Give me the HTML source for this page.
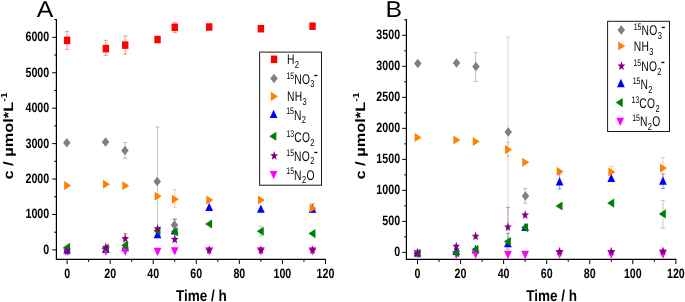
<!DOCTYPE html>
<html><head><meta charset="utf-8"><title>Figure</title>
<style>
html,body{margin:0;padding:0;background:#fff;}
body{width:685px;height:302px;overflow:hidden;}
svg{display:block;font-family:"Liberation Sans",sans-serif;will-change:transform;}
svg text{text-rendering:geometricPrecision;}
</style></head><body>
<svg width="685" height="302" viewBox="0 0 685 302">
<rect width="685" height="302" fill="#fff"/>
<path d="M56.4 19V259.3H325.9" stroke="#000" stroke-width="1.2" fill="none"/>
<path d="M56.4 249.9h-4.2M56.4 214.47h-4.2M56.4 179.04h-4.2M56.4 143.61h-4.2M56.4 108.18h-4.2M56.4 72.75h-4.2M56.4 37.32h-4.2M56.4 232.19h-2.2M56.4 196.75h-2.2M56.4 161.32h-2.2M56.4 125.89h-2.2M56.4 90.47h-2.2M56.4 55.03h-2.2M56.4 19.6h-2.2M67.1 259.3v4.8M110.16 259.3v4.8M153.22 259.3v4.8M196.28 259.3v4.8M239.34 259.3v4.8M282.4 259.3v4.8M325.46 259.3v4.8M88.63 259.3v2.6M131.69 259.3v2.6M174.75 259.3v2.6M217.81 259.3v2.6M260.87 259.3v2.6M303.93 259.3v2.6" stroke="#000" stroke-width="1" fill="none"/>
<text transform="translate(49.2 253.9) scale(0.785 1)" font-size="13.6" font-weight="bold" text-anchor="end" >0</text>
<text transform="translate(49.2 218.47) scale(0.785 1)" font-size="13.6" font-weight="bold" text-anchor="end" >1000</text>
<text transform="translate(49.2 183.04) scale(0.785 1)" font-size="13.6" font-weight="bold" text-anchor="end" >2000</text>
<text transform="translate(49.2 147.61) scale(0.785 1)" font-size="13.6" font-weight="bold" text-anchor="end" >3000</text>
<text transform="translate(49.2 112.18) scale(0.785 1)" font-size="13.6" font-weight="bold" text-anchor="end" >4000</text>
<text transform="translate(49.2 76.75) scale(0.785 1)" font-size="13.6" font-weight="bold" text-anchor="end" >5000</text>
<text transform="translate(49.2 41.32) scale(0.785 1)" font-size="13.6" font-weight="bold" text-anchor="end" >6000</text>
<text transform="translate(67.1 277.9) scale(0.785 1)" font-size="13.6" font-weight="bold" text-anchor="middle" >0</text>
<text transform="translate(110.16 277.9) scale(0.785 1)" font-size="13.6" font-weight="bold" text-anchor="middle" >20</text>
<text transform="translate(153.22 277.9) scale(0.785 1)" font-size="13.6" font-weight="bold" text-anchor="middle" >40</text>
<text transform="translate(196.28 277.9) scale(0.785 1)" font-size="13.6" font-weight="bold" text-anchor="middle" >60</text>
<text transform="translate(239.34 277.9) scale(0.785 1)" font-size="13.6" font-weight="bold" text-anchor="middle" >80</text>
<text transform="translate(282.4 277.9) scale(0.785 1)" font-size="13.6" font-weight="bold" text-anchor="middle" >100</text>
<text transform="translate(325.46 277.9) scale(0.785 1)" font-size="13.6" font-weight="bold" text-anchor="middle" >120</text>
<path d="M406.4 19V259.3H676.3" stroke="#000" stroke-width="1.2" fill="none"/>
<path d="M406.4 252.4h-4.2M406.4 221.38h-4.2M406.4 190.37h-4.2M406.4 159.36h-4.2M406.4 128.34h-4.2M406.4 97.32h-4.2M406.4 66.31h-4.2M406.4 35.29h-4.2M406.4 236.89h-2.2M406.4 205.88h-2.2M406.4 174.86h-2.2M406.4 143.85h-2.2M406.4 112.83h-2.2M406.4 81.82h-2.2M406.4 50.8h-2.2M406.4 19.79h-2.2M417.5 259.3v4.8M460.56 259.3v4.8M503.62 259.3v4.8M546.68 259.3v4.8M589.74 259.3v4.8M632.8 259.3v4.8M675.86 259.3v4.8M439.03 259.3v2.6M482.09 259.3v2.6M525.15 259.3v2.6M568.21 259.3v2.6M611.27 259.3v2.6M654.33 259.3v2.6" stroke="#000" stroke-width="1" fill="none"/>
<text transform="translate(400.1 256.4) scale(0.785 1)" font-size="13.6" font-weight="bold" text-anchor="end" >0</text>
<text transform="translate(400.1 225.38) scale(0.785 1)" font-size="13.6" font-weight="bold" text-anchor="end" >500</text>
<text transform="translate(400.1 194.37) scale(0.785 1)" font-size="13.6" font-weight="bold" text-anchor="end" >1000</text>
<text transform="translate(400.1 163.36) scale(0.785 1)" font-size="13.6" font-weight="bold" text-anchor="end" >1500</text>
<text transform="translate(400.1 132.34) scale(0.785 1)" font-size="13.6" font-weight="bold" text-anchor="end" >2000</text>
<text transform="translate(400.1 101.32) scale(0.785 1)" font-size="13.6" font-weight="bold" text-anchor="end" >2500</text>
<text transform="translate(400.1 70.31) scale(0.785 1)" font-size="13.6" font-weight="bold" text-anchor="end" >3000</text>
<text transform="translate(400.1 39.29) scale(0.785 1)" font-size="13.6" font-weight="bold" text-anchor="end" >3500</text>
<text transform="translate(417.5 277.9) scale(0.785 1)" font-size="13.6" font-weight="bold" text-anchor="middle" >0</text>
<text transform="translate(460.56 277.9) scale(0.785 1)" font-size="13.6" font-weight="bold" text-anchor="middle" >20</text>
<text transform="translate(503.62 277.9) scale(0.785 1)" font-size="13.6" font-weight="bold" text-anchor="middle" >40</text>
<text transform="translate(546.68 277.9) scale(0.785 1)" font-size="13.6" font-weight="bold" text-anchor="middle" >60</text>
<text transform="translate(589.74 277.9) scale(0.785 1)" font-size="13.6" font-weight="bold" text-anchor="middle" >80</text>
<text transform="translate(632.8 277.9) scale(0.785 1)" font-size="13.6" font-weight="bold" text-anchor="middle" >100</text>
<text transform="translate(675.86 277.9) scale(0.785 1)" font-size="13.6" font-weight="bold" text-anchor="middle" >120</text>
<path d="M157.53 127.1V235.9M155.43 127.1h4.2M155.43 235.9h4.2" stroke="#808080" stroke-opacity="0.55" stroke-width="0.8" fill="none"/>
<path d="M125.23 142.4V158.2M123.13 142.4h4.2M123.13 158.2h4.2" stroke="#808080" stroke-opacity="0.6" stroke-width="0.8" fill="none"/>
<path d="M174.75 219V231M172.65 219h4.2M172.65 231h4.2" stroke="#808080" stroke-opacity="0.6" stroke-width="0.8" fill="none"/>
<path d="M174.75 189.6V207.7M172.65 189.6h4.2M172.65 207.7h4.2" stroke="#ff8000" stroke-opacity="0.5" stroke-width="0.8" fill="none"/>
<path d="M174.75 219.2V241.6M172.65 219.2h4.2M172.65 241.6h4.2" stroke="#0000ff" stroke-opacity="0.5" stroke-width="0.8" fill="none"/>
<path d="M312.54 204.1V212.6M310.44 204.1h4.2M310.44 212.6h4.2" stroke="#0000ff" stroke-opacity="0.5" stroke-width="0.8" fill="none"/>
<path d="M312.54 203.8V212.4M310.44 203.8h4.2M310.44 212.4h4.2" stroke="#ff8000" stroke-opacity="0.5" stroke-width="0.8" fill="none"/>
<path d="M260.87 226.5V236M258.77 226.5h4.2M258.77 236h4.2" stroke="#008000" stroke-opacity="0.4" stroke-width="0.8" fill="none"/>
<path d="M125.23 233.6V243M123.13 233.6h4.2M123.13 243h4.2" stroke="#800080" stroke-opacity="0.6" stroke-width="0.8" fill="none"/>
<path d="M67.1 31.4V49.4M65 31.4h4.2M65 49.4h4.2" stroke="#ff0000" stroke-opacity="0.5" stroke-width="0.8" fill="none"/>
<path d="M105.85 40.3V55.4M103.75 40.3h4.2M103.75 55.4h4.2" stroke="#ff0000" stroke-opacity="0.5" stroke-width="0.8" fill="none"/>
<path d="M125.23 36V54.2M123.13 36h4.2M123.13 54.2h4.2" stroke="#ff0000" stroke-opacity="0.5" stroke-width="0.8" fill="none"/>
<path d="M174.75 22.3V32.6M172.65 22.3h4.2M172.65 32.6h4.2" stroke="#ff0000" stroke-opacity="0.5" stroke-width="0.8" fill="none"/>
<path d="M67.1 245.25L70.95 253.55L63.25 253.55Z" fill="#0000ff"/>
<path d="M105.85 244.65L109.7 252.95L102 252.95Z" fill="#0000ff"/>
<path d="M125.23 243.05L129.08 251.35L121.38 251.35Z" fill="#0000ff"/>
<path d="M157.53 230.05L161.38 238.35L153.68 238.35Z" fill="#0000ff"/>
<path d="M174.75 226.25L178.6 234.55L170.9 234.55Z" fill="#0000ff"/>
<path d="M209.2 202.75L213.05 211.05L205.35 211.05Z" fill="#0000ff"/>
<path d="M260.87 204.55L264.72 212.85L257.02 212.85Z" fill="#0000ff"/>
<path d="M312.54 204.55L316.39 212.85L308.69 212.85Z" fill="#0000ff"/>
<path d="M67.1 256.05L70.95 247.75L63.25 247.75Z" fill="#ff00ff"/>
<path d="M105.85 255.85L109.7 247.55L102 247.55Z" fill="#ff00ff"/>
<path d="M125.23 255.75L129.08 247.45L121.38 247.45Z" fill="#ff00ff"/>
<path d="M157.53 256.15L161.38 247.85L153.68 247.85Z" fill="#ff00ff"/>
<path d="M174.75 255.45L178.6 247.15L170.9 247.15Z" fill="#ff00ff"/>
<path d="M209.2 255.45L213.05 247.15L205.35 247.15Z" fill="#ff00ff"/>
<path d="M260.87 255.45L264.72 247.15L257.02 247.15Z" fill="#ff00ff"/>
<path d="M312.54 255.45L316.39 247.15L308.69 247.15Z" fill="#ff00ff"/>
<path d="M70 242.85L63 247.4L70 251.95Z" fill="#008000"/>
<path d="M108.75 243.65L101.75 248.2L108.75 252.75Z" fill="#008000"/>
<path d="M128.13 240.85L121.13 245.4L128.13 249.95Z" fill="#008000"/>
<path d="M160.43 226.15L153.43 230.7L160.43 235.25Z" fill="#008000"/>
<path d="M177.65 227.35L170.65 231.9L177.65 236.45Z" fill="#008000"/>
<path d="M212.1 219.45L205.1 224L212.1 228.55Z" fill="#008000"/>
<path d="M263.77 226.75L256.77 231.3L263.77 235.85Z" fill="#008000"/>
<path d="M315.44 229.05L308.44 233.6L315.44 238.15Z" fill="#008000"/>
<path d="M67.1 246.41L68.12 249.58L70.93 249.76L68.75 251.91L69.47 255.19L67.1 253.35L64.73 255.19L65.45 251.91L63.27 249.76L66.08 249.58Z" fill="#800080"/>
<path d="M105.85 242.61L106.87 245.78L109.68 245.96L107.5 248.11L108.22 251.39L105.85 249.55L103.49 251.39L104.21 248.11L102.03 245.96L104.84 245.78Z" fill="#800080"/>
<path d="M125.23 233.81L126.25 236.98L129.06 237.16L126.88 239.31L127.6 242.59L125.23 240.75L122.86 242.59L123.58 239.31L121.4 237.16L124.21 236.98Z" fill="#800080"/>
<path d="M157.53 224.11L158.54 227.28L161.35 227.46L159.17 229.61L159.89 232.89L157.53 231.05L155.16 232.89L155.88 229.61L153.7 227.46L156.51 227.28Z" fill="#800080"/>
<path d="M174.75 234.61L175.77 237.78L178.58 237.96L176.4 240.11L177.12 243.39L174.75 241.55L172.38 243.39L173.1 240.11L170.92 237.96L173.73 237.78Z" fill="#800080"/>
<path d="M209.2 245.31L210.22 248.48L213.03 248.66L210.84 250.81L211.56 254.09L209.2 252.25L206.83 254.09L207.55 250.81L205.37 248.66L208.18 248.48Z" fill="#800080"/>
<path d="M260.87 245.31L261.89 248.48L264.7 248.66L262.52 250.81L263.24 254.09L260.87 252.25L258.5 254.09L259.22 250.81L257.04 248.66L259.85 248.48Z" fill="#800080"/>
<path d="M312.54 245.31L313.56 248.48L316.37 248.66L314.19 250.81L314.91 254.09L312.54 252.25L310.18 254.09L310.9 250.81L308.71 248.66L311.52 248.48Z" fill="#800080"/>
<path d="M66.8 138.05L70.55 142.8L66.8 147.55L63.05 142.8Z" fill="#808080"/>
<path d="M105.55 137.25L109.3 142L105.55 146.75L101.8 142Z" fill="#808080"/>
<path d="M124.93 145.75L128.68 150.5L124.93 155.25L121.18 150.5Z" fill="#808080"/>
<path d="M157.23 176.75L160.98 181.5L157.23 186.25L153.48 181.5Z" fill="#808080"/>
<path d="M174.45 220.15L178.2 224.9L174.45 229.65L170.7 224.9Z" fill="#808080"/>
<path d="M64.2 180.95L71.2 185.5L64.2 190.05Z" fill="#ff8000"/>
<path d="M102.95 179.65L109.95 184.2L102.95 188.75Z" fill="#ff8000"/>
<path d="M122.33 181.25L129.33 185.8L122.33 190.35Z" fill="#ff8000"/>
<path d="M154.63 191.65L161.63 196.2L154.63 200.75Z" fill="#ff8000"/>
<path d="M171.85 194.65L178.85 199.2L171.85 203.75Z" fill="#ff8000"/>
<path d="M206.3 195.55L213.3 200.1L206.3 204.65Z" fill="#ff8000"/>
<path d="M257.97 195.45L264.97 200L257.97 204.55Z" fill="#ff8000"/>
<path d="M309.64 203.65L316.64 208.2L309.64 212.75Z" fill="#ff8000"/>
<rect x="63.9" y="36.65" width="6.4" height="7.5" fill="#ff0000"/>
<rect x="102.65" y="44.85" width="6.4" height="7.5" fill="#ff0000"/>
<rect x="122.03" y="41.35" width="6.4" height="7.5" fill="#ff0000"/>
<rect x="154.33" y="35.75" width="6.4" height="7.5" fill="#ff0000"/>
<rect x="171.55" y="23.55" width="6.4" height="7.5" fill="#ff0000"/>
<rect x="206" y="23.25" width="6.4" height="7.5" fill="#ff0000"/>
<rect x="257.67" y="24.95" width="6.4" height="7.5" fill="#ff0000"/>
<rect x="309.34" y="22.45" width="6.4" height="7.5" fill="#ff0000"/>
<path d="M507.93 37V227M505.83 37h4.2M505.83 227h4.2" stroke="#808080" stroke-opacity="0.4" stroke-width="0.8" fill="none"/>
<path d="M475.63 52.5V81.4M473.53 52.5h4.2M473.53 81.4h4.2" stroke="#808080" stroke-opacity="0.6" stroke-width="0.8" fill="none"/>
<path d="M525.15 188.5V203.3M523.05 188.5h4.2M523.05 203.3h4.2" stroke="#808080" stroke-opacity="0.6" stroke-width="0.8" fill="none"/>
<path d="M507.93 142.3V156.4M505.83 142.3h4.2M505.83 156.4h4.2" stroke="#ff8000" stroke-opacity="0.5" stroke-width="0.8" fill="none"/>
<path d="M507.93 207.4V246M505.83 207.4h4.2M505.83 246h4.2" stroke="#800080" stroke-opacity="0.45" stroke-width="0.8" fill="none"/>
<path d="M507.93 233.3V249.3M505.83 233.3h4.2M505.83 249.3h4.2" stroke="#008000" stroke-opacity="0.5" stroke-width="0.8" fill="none"/>
<path d="M559.6 174V189M557.5 174h4.2M557.5 189h4.2" stroke="#0000ff" stroke-opacity="0.5" stroke-width="0.8" fill="none"/>
<path d="M662.94 174V188.5M660.84 174h4.2M660.84 188.5h4.2" stroke="#0000ff" stroke-opacity="0.5" stroke-width="0.8" fill="none"/>
<path d="M611.27 166.5V177M609.17 166.5h4.2M609.17 177h4.2" stroke="#ff8000" stroke-opacity="0.5" stroke-width="0.8" fill="none"/>
<path d="M662.94 157.5V179M660.84 157.5h4.2M660.84 179h4.2" stroke="#ff8000" stroke-opacity="0.5" stroke-width="0.8" fill="none"/>
<path d="M662.94 200.3V228M660.84 200.3h4.2M660.84 228h4.2" stroke="#008000" stroke-opacity="0.4" stroke-width="0.8" fill="none"/>
<path d="M417.5 248.25L421.35 256.55L413.65 256.55Z" fill="#0000ff"/>
<path d="M456.25 246.75L460.1 255.05L452.4 255.05Z" fill="#0000ff"/>
<path d="M475.63 244.85L479.48 253.15L471.78 253.15Z" fill="#0000ff"/>
<path d="M507.93 238.85L511.78 247.15L504.08 247.15Z" fill="#0000ff"/>
<path d="M525.15 222.75L529 231.05L521.3 231.05Z" fill="#0000ff"/>
<path d="M559.6 177.15L563.45 185.45L555.75 185.45Z" fill="#0000ff"/>
<path d="M611.27 173.65L615.12 181.95L607.42 181.95Z" fill="#0000ff"/>
<path d="M662.94 176.45L666.79 184.75L659.09 184.75Z" fill="#0000ff"/>
<path d="M417.5 258.35L421.35 250.05L413.65 250.05Z" fill="#ff00ff"/>
<path d="M456.25 258.95L460.1 250.65L452.4 250.65Z" fill="#ff00ff"/>
<path d="M475.63 258.75L479.48 250.45L471.78 250.45Z" fill="#ff00ff"/>
<path d="M507.93 259.15L511.78 250.85L504.08 250.85Z" fill="#ff00ff"/>
<path d="M525.15 259.15L529 250.85L521.3 250.85Z" fill="#ff00ff"/>
<path d="M559.6 258.65L563.45 250.35L555.75 250.35Z" fill="#ff00ff"/>
<path d="M611.27 258.65L615.12 250.35L607.42 250.35Z" fill="#ff00ff"/>
<path d="M662.94 258.65L666.79 250.35L659.09 250.35Z" fill="#ff00ff"/>
<path d="M420.4 248.65L413.4 253.2L420.4 257.75Z" fill="#008000"/>
<path d="M459.15 248.25L452.15 252.8L459.15 257.35Z" fill="#008000"/>
<path d="M478.53 244.65L471.53 249.2L478.53 253.75Z" fill="#008000"/>
<path d="M510.83 236.95L503.83 241.5L510.83 246.05Z" fill="#008000"/>
<path d="M528.05 223.05L521.05 227.6L528.05 232.15Z" fill="#008000"/>
<path d="M562.5 201.45L555.5 206L562.5 210.55Z" fill="#008000"/>
<path d="M614.17 198.55L607.17 203.1L614.17 207.65Z" fill="#008000"/>
<path d="M665.84 209.35L658.84 213.9L665.84 218.45Z" fill="#008000"/>
<path d="M417.5 248.61L418.52 251.78L421.33 251.96L419.15 254.11L419.87 257.39L417.5 255.55L415.13 257.39L415.85 254.11L413.67 251.96L416.48 251.78Z" fill="#800080"/>
<path d="M456.25 241.51L457.27 244.68L460.08 244.86L457.9 247.01L458.62 250.29L456.25 248.45L453.89 250.29L454.61 247.01L452.43 244.86L455.24 244.68Z" fill="#800080"/>
<path d="M475.63 231.51L476.65 234.68L479.46 234.86L477.28 237.01L478 240.29L475.63 238.45L473.26 240.29L473.98 237.01L471.8 234.86L474.61 234.68Z" fill="#800080"/>
<path d="M507.93 222.21L508.94 225.38L511.75 225.56L509.57 227.71L510.29 230.99L507.93 229.15L505.56 230.99L506.28 227.71L504.1 225.56L506.91 225.38Z" fill="#800080"/>
<path d="M525.15 210.21L526.17 213.38L528.98 213.56L526.8 215.71L527.52 218.99L525.15 217.15L522.78 218.99L523.5 215.71L521.32 213.56L524.13 213.38Z" fill="#800080"/>
<path d="M559.6 246.71L560.62 249.88L563.43 250.06L561.24 252.21L561.96 255.49L559.6 253.65L557.23 255.49L557.95 252.21L555.77 250.06L558.58 249.88Z" fill="#800080"/>
<path d="M611.27 246.81L612.29 249.98L615.1 250.16L612.92 252.31L613.64 255.59L611.27 253.75L608.9 255.59L609.62 252.31L607.44 250.16L610.25 249.98Z" fill="#800080"/>
<path d="M662.94 246.41L663.96 249.58L666.77 249.76L664.59 251.91L665.31 255.19L662.94 253.35L660.58 255.19L661.3 251.91L659.11 249.76L661.92 249.58Z" fill="#800080"/>
<path d="M417.8 58.75L421.55 63.5L417.8 68.25L414.05 63.5Z" fill="#808080"/>
<path d="M456.55 58.25L460.3 63L456.55 67.75L452.8 63Z" fill="#808080"/>
<path d="M475.93 61.75L479.68 66.5L475.93 71.25L472.18 66.5Z" fill="#808080"/>
<path d="M508.23 127.25L511.98 132L508.23 136.75L504.48 132Z" fill="#808080"/>
<path d="M525.45 191.25L529.2 196L525.45 200.75L521.7 196Z" fill="#808080"/>
<path d="M414.6 132.95L421.6 137.5L414.6 142.05Z" fill="#ff8000"/>
<path d="M453.35 135.45L460.35 140L453.35 144.55Z" fill="#ff8000"/>
<path d="M472.73 136.95L479.73 141.5L472.73 146.05Z" fill="#ff8000"/>
<path d="M505.03 145.05L512.03 149.6L505.03 154.15Z" fill="#ff8000"/>
<path d="M522.25 157.65L529.25 162.2L522.25 166.75Z" fill="#ff8000"/>
<path d="M556.7 166.95L563.7 171.5L556.7 176.05Z" fill="#ff8000"/>
<path d="M608.37 167.45L615.37 172L608.37 176.55Z" fill="#ff8000"/>
<path d="M660.04 163.45L667.04 168L660.04 172.55Z" fill="#ff8000"/>
<text transform="translate(201.35 300.8) scale(0.855 1)" font-size="15.8" font-weight="bold" text-anchor="middle" >Time / h</text>
<text transform="translate(551.7 300.8) scale(0.855 1)" font-size="15.8" font-weight="bold" text-anchor="middle" >Time / h</text>
<text transform="translate(12.6 136.0) rotate(-90) scale(1 0.83)" font-size="16.4" font-weight="bold" text-anchor="middle">c / µmol*L<tspan dy="-6.6" font-size="10.6">-1</tspan></text>
<text transform="translate(364.7 136.0) rotate(-90) scale(1 0.83)" font-size="16.4" font-weight="bold" text-anchor="middle">c / µmol*L<tspan dy="-6.6" font-size="10.6">-1</tspan></text>
<text transform="translate(36.7 16.7) scale(1.08 1)" font-size="23.0" font-weight="normal" text-anchor="start" >A</text>
<text transform="translate(385.6 16.7) scale(1.08 1)" font-size="23.0" font-weight="normal" text-anchor="start" >B</text>
<rect x="259.6" y="52.1" width="61.9" height="133.1" fill="#fff" stroke="#1a1a1a" stroke-width="1"/>
<rect x="270.85" y="55.55" width="6.4" height="7.5" fill="#ff0000"/>
<text transform="translate(286.9 64.15) scale(0.735 1)" font-size="14.0" font-weight="normal" text-anchor="start" letter-spacing="0.5">H<tspan dy="3.5" font-size="10.2">2</tspan><tspan dy="-3.5" font-size="0.1">&#8203;</tspan></text>
<path d="M274 73.85L277.75 78.6L274 83.35L270.25 78.6Z" fill="#808080"/>
<text transform="translate(286.4 83.95) scale(0.735 1)" font-size="14.0" font-weight="normal" text-anchor="start" letter-spacing="0.5"><tspan dy="-5.4" font-size="9.5" letter-spacing="0">15</tspan><tspan dy="5.4" font-size="0.1">&#8203;</tspan>NO<tspan dy="3.5" font-size="10.2">3</tspan><tspan dy="-3.5" font-size="0.1">&#8203;</tspan><tspan dx="-1.4" dy="-3.9" font-size="17">-</tspan><tspan dy="3.9" font-size="0.1">&#8203;</tspan></text>
<path d="M270.9 91.85L277.9 96.4L270.9 100.95Z" fill="#ff8000"/>
<text transform="translate(286.9 101.15) scale(0.735 1)" font-size="14.0" font-weight="normal" text-anchor="start" letter-spacing="0.5">NH<tspan dy="3.5" font-size="10.2">3</tspan><tspan dy="-3.5" font-size="0.1">&#8203;</tspan></text>
<path d="M273.6 109.65L277.45 117.95L269.75 117.95Z" fill="#0000ff"/>
<text transform="translate(286.2 119.55) scale(0.735 1)" font-size="14.0" font-weight="normal" text-anchor="start" letter-spacing="0.5"><tspan dy="-5.4" font-size="9.5" letter-spacing="0">15</tspan><tspan dy="5.4" font-size="0.1">&#8203;</tspan>N<tspan dy="3.5" font-size="10.2">2</tspan><tspan dy="-3.5" font-size="0.1">&#8203;</tspan></text>
<path d="M276.3 131.65L269.3 136.2L276.3 140.75Z" fill="#008000"/>
<text transform="translate(286.4 142.15) scale(0.735 1)" font-size="14.0" font-weight="normal" text-anchor="start" letter-spacing="0.5"><tspan dy="-5.4" font-size="9.5" letter-spacing="0">13</tspan><tspan dy="5.4" font-size="0.1">&#8203;</tspan>CO<tspan dy="3.5" font-size="10.2">2</tspan><tspan dy="-3.5" font-size="0.1">&#8203;</tspan></text>
<path d="M274.2 151.01L275.22 154.18L278.03 154.36L275.85 156.51L276.57 159.79L274.2 157.95L271.83 159.79L272.55 156.51L270.37 154.36L273.18 154.18Z" fill="#800080"/>
<text transform="translate(286.3 160.95) scale(0.735 1)" font-size="14.0" font-weight="normal" text-anchor="start" letter-spacing="0.5"><tspan dy="-5.4" font-size="9.5" letter-spacing="0">15</tspan><tspan dy="5.4" font-size="0.1">&#8203;</tspan>NO<tspan dy="3.5" font-size="10.2">2</tspan><tspan dy="-3.5" font-size="0.1">&#8203;</tspan><tspan dx="-1.4" dy="-3.9" font-size="17">-</tspan><tspan dy="3.9" font-size="0.1">&#8203;</tspan></text>
<path d="M273.6 179.35L277.45 171.05L269.75 171.05Z" fill="#ff00ff"/>
<text transform="translate(286.3 179.75) scale(0.735 1)" font-size="14.0" font-weight="normal" text-anchor="start" letter-spacing="0.5"><tspan dy="-5.4" font-size="9.5" letter-spacing="0">15</tspan><tspan dy="5.4" font-size="0.1">&#8203;</tspan>N<tspan dy="3.5" font-size="10.2">2</tspan><tspan dy="-3.5" font-size="0.1">&#8203;</tspan>O</text>
<rect x="607.6" y="21.3" width="61.9" height="110.2" fill="#fff" stroke="#1a1a1a" stroke-width="1"/>
<path d="M621.3 25.25L625.05 30L621.3 34.75L617.55 30Z" fill="#808080"/>
<text transform="translate(633.7 35.45) scale(0.735 1)" font-size="14.0" font-weight="normal" text-anchor="start" letter-spacing="0.5"><tspan dy="-5.4" font-size="9.5" letter-spacing="0">15</tspan><tspan dy="5.4" font-size="0.1">&#8203;</tspan>NO<tspan dy="3.5" font-size="10.2">3</tspan><tspan dy="-3.5" font-size="0.1">&#8203;</tspan><tspan dx="-1.4" dy="-3.9" font-size="17">-</tspan><tspan dy="3.9" font-size="0.1">&#8203;</tspan></text>
<path d="M618.25 41.5L625.25 46.05L618.25 50.6Z" fill="#ff8000"/>
<text transform="translate(633.7 51.05) scale(0.735 1)" font-size="14.0" font-weight="normal" text-anchor="start" letter-spacing="0.5">NH<tspan dy="3.5" font-size="10.2">3</tspan><tspan dy="-3.5" font-size="0.1">&#8203;</tspan></text>
<path d="M621.4 61.21L622.42 64.38L625.23 64.56L623.05 66.71L623.77 69.99L621.4 68.15L619.03 69.99L619.75 66.71L617.57 64.56L620.38 64.38Z" fill="#800080"/>
<text transform="translate(633.4 71.25) scale(0.735 1)" font-size="14.0" font-weight="normal" text-anchor="start" letter-spacing="0.5"><tspan dy="-5.4" font-size="9.5" letter-spacing="0">15</tspan><tspan dy="5.4" font-size="0.1">&#8203;</tspan>NO<tspan dy="3.5" font-size="10.2">2</tspan><tspan dy="-3.5" font-size="0.1">&#8203;</tspan><tspan dx="-1.4" dy="-3.9" font-size="17">-</tspan><tspan dy="3.9" font-size="0.1">&#8203;</tspan></text>
<path d="M620.9 78.85L624.75 87.15L617.05 87.15Z" fill="#0000ff"/>
<text transform="translate(632.7 89.15) scale(0.735 1)" font-size="14.0" font-weight="normal" text-anchor="start" letter-spacing="0.5"><tspan dy="-5.4" font-size="9.5" letter-spacing="0">15</tspan><tspan dy="5.4" font-size="0.1">&#8203;</tspan>N<tspan dy="3.5" font-size="10.2">2</tspan><tspan dy="-3.5" font-size="0.1">&#8203;</tspan></text>
<path d="M622.7 98.05L615.7 102.6L622.7 107.15Z" fill="#008000"/>
<text transform="translate(631.5 108.15) scale(0.735 1)" font-size="14.0" font-weight="normal" text-anchor="start" letter-spacing="0.5"><tspan dy="-5.4" font-size="9.5" letter-spacing="0">13</tspan><tspan dy="5.4" font-size="0.1">&#8203;</tspan>CO<tspan dy="3.5" font-size="10.2">2</tspan><tspan dy="-3.5" font-size="0.1">&#8203;</tspan></text>
<path d="M620.2 125.95L624.05 117.65L616.35 117.65Z" fill="#ff00ff"/>
<text transform="translate(632.2 126.35) scale(0.735 1)" font-size="14.0" font-weight="normal" text-anchor="start" letter-spacing="0.5"><tspan dy="-5.4" font-size="9.5" letter-spacing="0">15</tspan><tspan dy="5.4" font-size="0.1">&#8203;</tspan>N<tspan dy="3.5" font-size="10.2">2</tspan><tspan dy="-3.5" font-size="0.1">&#8203;</tspan>O</text>
</svg>
</body></html>
